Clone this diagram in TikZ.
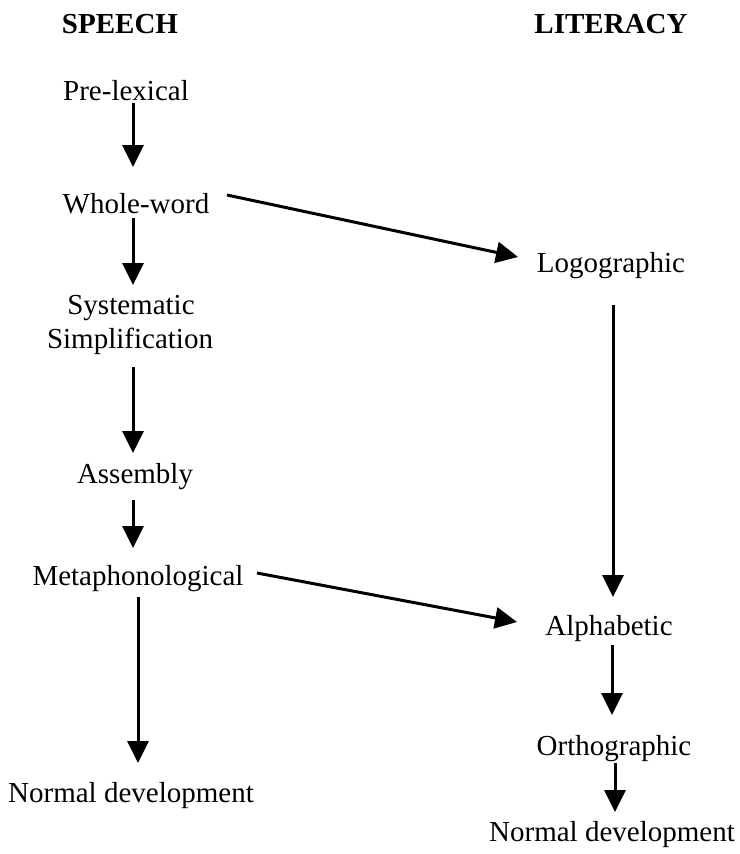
\documentclass[tikz,border=0pt]{standalone}
\usepackage{fontspec}
\setmainfont{Liberation Serif}
\usetikzlibrary{arrows.meta}
\begin{document}
\begin{tikzpicture}[x=1pt,y=-1pt,
  lbl/.style={anchor=base,inner sep=0pt,font=\fontsize{29}{34}\selectfont},
  hdr/.style={lbl,font=\fontsize{29}{34}\selectfont\bfseries},
  arr/.style={line width=3pt,-{Triangle[width=21pt,length=22pt]}}]
\useasboundingbox (0,0) rectangle (739,854);
\node[hdr] (speech) at (120,33) {SPEECH};
\node[hdr] (literacy) at (611,33) {LITERACY};
\node[lbl] (pre) at (126,100) {Pre-lexical};
\node[lbl] (whole) at (136,213) {Whole-word};
\node[lbl] (logo) at (611,272) {Logographic};
\node[lbl] (sys) at (131,314) {Systematic};
\node[lbl] (simp) at (130,348) {Simplification};
\node[lbl] (assem) at (135,483) {Assembly};
\node[lbl] (meta) at (138,585) {Metaphonological};
\node[lbl] (alpha) at (609,635) {Alphabetic};
\node[lbl] (ortho) at (614,755) {Orthographic};
\node[lbl] (normL) at (131,802) {Normal development};
\node[lbl] (normR) at (612,841) {Normal development};
% speech column
\draw[arr] ([xshift=7pt,yshift=-3pt]pre.base) -- ([xshift=-3pt,yshift=46pt]whole.base);
\draw[arr] ([xshift=-3pt,yshift=-5pt]whole.base) -- ([xshift=2pt,yshift=29pt]sys.base);
\draw[arr] ([xshift=3pt,yshift=-19pt]simp.base) -- ([xshift=-2pt,yshift=30pt]assem.base);
\draw[arr] ([xshift=-2pt,yshift=-17pt]assem.base) -- ([xshift=-5pt,yshift=37pt]meta.base);
\draw[arr] ([yshift=-12pt]meta.base) -- ([xshift=7pt,yshift=39pt]normL.base);
% cross links
\draw[arr] ([xshift=91pt,yshift=18pt]whole.base) -- ([xshift=-93pt,yshift=15pt]logo.base);
\draw[arr] ([xshift=119pt,yshift=12pt]meta.base) -- ([xshift=-92pt,yshift=13pt]alpha.base);
% literacy column
\draw[arr] ([xshift=2pt,yshift=-33pt]logo.base) -- ([xshift=4pt,yshift=38pt]alpha.base);
\draw[arr] ([xshift=3pt,yshift=-10pt]alpha.base) -- ([xshift=-2pt,yshift=40pt]ortho.base);
\draw[arr] ([xshift=1pt,yshift=-8pt]ortho.base) -- ([xshift=3pt,yshift=29pt]normR.base);
\end{tikzpicture}
\end{document}
